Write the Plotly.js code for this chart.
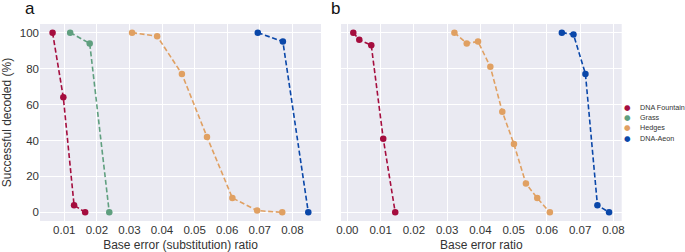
<!DOCTYPE html>
<html>
<head>
<meta charset="utf-8">
<script src="https://cdn.plot.ly/plotly-3.0.1.min.js"></script>
<style>html,body{margin:0;padding:0;background:#fff;}#chart{width:685px;height:252px;}</style>
</head>
<body>
<div id="chart"></div>
<script>
// ---- data ----
const seriesNames = ["DNA Fountain", "Grass", "Hedges", "DNA-Aeon"];
const seriesColors = ["#a50d3e", "#5f9f7f", "#e0a062", "#0a47a9"];

// Panel a: substitution error ratio
const a_fountain_x = [0.0064, 0.0097, 0.0130, 0.0164];
const a_fountain_y = [100, 64, 4, 0];
const a_grass_x = [0.0118, 0.0178, 0.0238];
const a_grass_y = [100, 94, 0];
const a_hedges_x = [0.0308, 0.0385, 0.0461, 0.0538, 0.0616, 0.0692, 0.0769];
const a_hedges_y = [100, 98, 77, 42, 8, 1, 0];
const a_aeon_x = [0.0694, 0.0771, 0.0849];
const a_aeon_y = [100, 95, 0];

// Panel b: base error ratio
const b_fountain_x = [0.0018, 0.0036, 0.0072, 0.0108, 0.0144];
const b_fountain_y = [100, 96, 93, 41, 0];
const b_hedges_x = [0.0322, 0.0359, 0.0393, 0.0430, 0.0466, 0.0501, 0.0537, 0.0571, 0.0609];
const b_hedges_y = [100, 94, 95, 81, 56, 38, 16, 8, 0];
const b_aeon_x = [0.0645, 0.0680, 0.0716, 0.0752, 0.0787];
const b_aeon_y = [100, 99, 77, 4, 0];

const xTicksA = [0.01, 0.02, 0.03, 0.04, 0.05, 0.06, 0.07, 0.08];
const xTicksB = [0, 0.01, 0.02, 0.03, 0.04, 0.05, 0.06, 0.07, 0.08];
const yTicks = [0, 20, 40, 60, 80, 100];

function tr(x, y, i, xa, ya) {
  return {
    x: x, y: y, xaxis: xa, yaxis: ya, type: "scatter", mode: "lines+markers",
    name: seriesNames[i], showlegend: false,
    line: {color: seriesColors[i], dash: "5px,2.6px", width: 1.6},
    marker: {color: seriesColors[i], size: 6.5}
  };
}

const data = [
  tr(a_fountain_x, a_fountain_y, 0, "x", "y"),
  tr(a_grass_x, a_grass_y, 1, "x", "y"),
  tr(a_hedges_x, a_hedges_y, 2, "x", "y"),
  tr(a_aeon_x, a_aeon_y, 3, "x", "y"),
  tr(b_fountain_x, b_fountain_y, 0, "x2", "y2"),
  tr(b_hedges_x, b_hedges_y, 2, "x2", "y2"),
  tr(b_aeon_x, b_aeon_y, 3, "x2", "y2")
];

const W = 685, H = 252;
const font = {family: "Liberation Sans, Arial, sans-serif", color: "#333333", size: 11.5};
const axCommon = {
  showline: false, zeroline: false, gridcolor: "#ffffff", gridwidth: 1,
  ticks: "", tickfont: font, fixedrange: true
};

const annotations = [
  {text: "a", xref: "paper", yref: "paper", x: 30 / W, y: 1 - 8 / H, xanchor: "center", yanchor: "middle",
   showarrow: false, font: {family: font.family, size: 17, color: "#111"}},
  {text: "b", xref: "paper", yref: "paper", x: 335 / W, y: 1 - 8 / H, xanchor: "center", yanchor: "middle",
   showarrow: false, font: {family: font.family, size: 17, color: "#111"}}
];
// legend (drawn as annotations: a dot and a label per series)
const legendTop = 107, legendStep = 10.4;
seriesNames.forEach((n, i) => {
  const yy = 1 - (legendTop + i * legendStep) / H;
  annotations.push({
    text: "●", xref: "paper", yref: "paper", x: 627.5 / W, y: yy,
    xanchor: "center", yanchor: "middle", showarrow: false,
    font: {family: "DejaVu Sans", size: 7.5, color: seriesColors[i]}
  });
  annotations.push({
    text: n, xref: "paper", yref: "paper", x: 638 / W, y: yy,
    xanchor: "left", yanchor: "middle", showarrow: false,
    font: {family: font.family, size: 7.2, color: "#333333"}
  });
});

const layout = {
  width: W, height: H,
  margin: {l: 0, r: 0, t: 0, b: 0},
  paper_bgcolor: "#ffffff", plot_bgcolor: "#eaeaf2",
  showlegend: false,
  font: font,
  xaxis: Object.assign({}, axCommon, {
    domain: [40 / W, 321 / W], range: [0.00254, 0.0888],
    tickvals: xTicksA, ticktext: xTicksA.map(v => v.toFixed(2)),
    title: {text: "Base error (substitution) ratio", font: {family: font.family, size: 12, color: "#333333"}, standoff: 7},
    anchor: "y"
  }),
  yaxis: Object.assign({}, axCommon, {
    domain: [1 - 221 / H, 1 - 24 / H], range: [-4.8, 104.8],
    tickvals: yTicks, ticktext: yTicks.map(String),
    title: {text: "Successful decoded (%)", font: {family: font.family, size: 12, color: "#333333"}, standoff: 6},
    anchor: "x"
  }),
  xaxis2: Object.assign({}, axCommon, {
    domain: [341 / W, 621.7 / W], range: [-0.0019, 0.0825],
    tickvals: xTicksB, ticktext: xTicksB.map(v => v.toFixed(2)),
    title: {text: "Base error ratio", font: {family: font.family, size: 12, color: "#333333"}, standoff: 7},
    anchor: "y2"
  }),
  yaxis2: Object.assign({}, axCommon, {
    domain: [1 - 221 / H, 1 - 24 / H], range: [-4.8, 104.8],
    tickvals: yTicks, showticklabels: false,
    anchor: "x2"
  }),
  annotations: annotations
};

Plotly.newPlot("chart", data, layout, {displayModeBar: false, staticPlot: true});
</script>
</body>
</html>
